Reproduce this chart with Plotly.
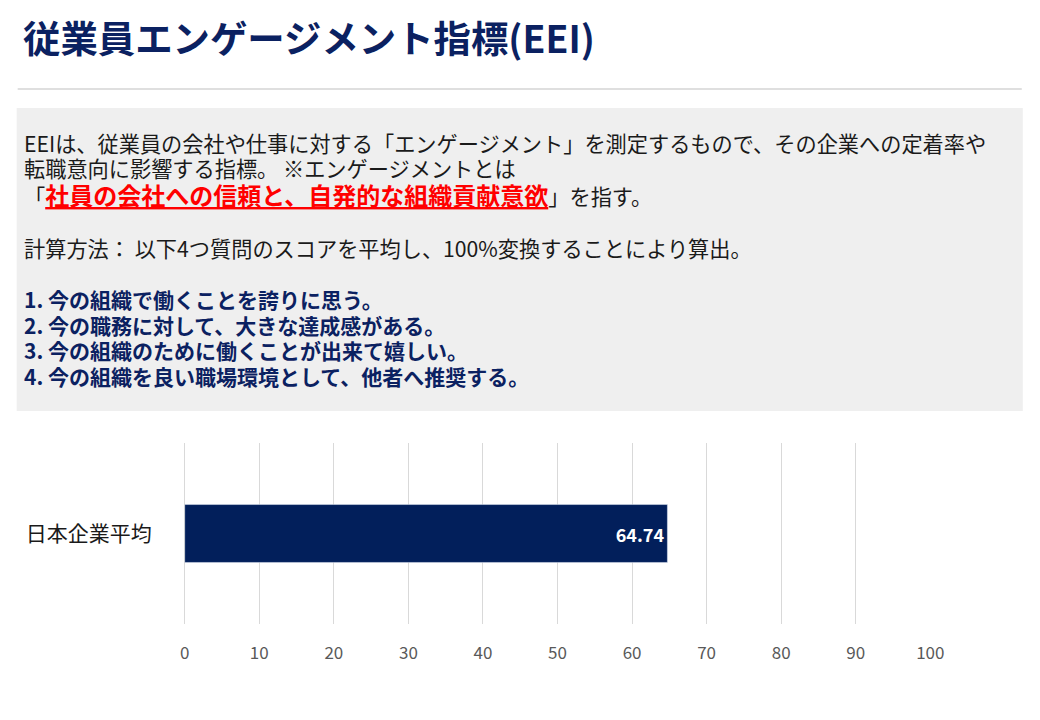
import plotly.graph_objects as go

categories = ["日本企業平均"]
values = [64.74]
x_ticks = [0, 10, 20, 30, 40, 50, 60, 70, 80, 90, 100]

title_text = "従業員エンゲージメント指標(EEI)"
desc_lines = [
    "EEIは、従業員の会社や仕事に対する「エンゲージメント」を測定するもので、その企業への定着率や",
    "転職意向に影響する指標。 ※エンゲージメントとは",
    "「<span style='color:#ff0000;font-size:24px'><b><u>社員の会社への信頼と、自発的な組織貢献意欲</u></b></span>」を指す。",
    "計算方法： 以下4つ質問のスコアを平均し、100%変換することにより算出。",
]
questions = [
    "1. 今の組織で働くことを誇りに思う。",
    "2. 今の職務に対して、大きな達成感がある。",
    "3. 今の組織のために働くことが出来て嬉しい。",
    "4. 今の組織を良い職場環境として、他者へ推奨する。",
]

W, H = 1040, 720
FONT = "Noto Sans CJK JP"
NAVY = "#0b2161"

def px(xi):
    # map a target picture x to paper x (the page is rendered slightly narrower)
    return (xi - 2.25) / 0.9875 / W

def py(pix):
    return 1 - pix / H

fig = go.Figure()
fig.add_trace(go.Bar(
    x=values, y=categories, orientation="h",
    marker=dict(color="#021f5b"),
    text=[f"{v:.2f}" for v in values],
    textposition="inside", insidetextanchor="end",
    textfont=dict(color="white", size=18, family=FONT),
    texttemplate="<b>%{text}</b>",
    hoverinfo="skip",
))

shapes = [
    dict(type="line", xref="paper", yref="paper", x0=px(15), x1=px(1025), y0=py(89), y1=py(89),
         line=dict(color="#bfbfbf", width=1)),
    dict(type="rect", xref="paper", yref="paper", x0=px(14), x1=px(1026), y0=py(411), y1=py(108),
         fillcolor="#efefef", line=dict(width=0), layer="below"),
]

annotations = [
    dict(text=f"<b>{title_text}</b>", x=16/W, y=py(37), xref="paper", yref="paper",
         xanchor="left", yanchor="middle", showarrow=False,
         font=dict(size=37.4, color=NAVY, family=FONT)),
]
desc_y = [143, 167, 195, 247]
for t, yy in zip(desc_lines, desc_y):
    annotations.append(dict(text=t, x=17/W, y=py(yy), xref="paper", yref="paper",
                            xanchor="left", yanchor="middle", showarrow=False,
                            font=dict(size=21.2, color="#1a1a1a", family=FONT)))
q_y = [299, 325, 350, 376]
for t, yy in zip(questions, q_y):
    annotations.append(dict(text=f"<b>{t}</b>", x=17/W, y=py(yy), xref="paper", yref="paper",
                            xanchor="left", yanchor="middle", showarrow=False,
                            font=dict(size=21, color=NAVY, family=FONT)))

fig.update_layout(
    width=W, height=H,
    margin=dict(l=0, r=0, t=0, b=0),
    paper_bgcolor="white", plot_bgcolor="white",
    showlegend=False,
    bargap=0.68,
    shapes=shapes,
    annotations=annotations,
    xaxis=dict(domain=[px(183), px(933)], range=[0, 100], tickvals=x_ticks,
               showgrid=True, gridcolor="#d9d9d9", gridwidth=1,
               zeroline=True, zerolinecolor="#d9d9d9", zerolinewidth=1,
               showline=False, ticks="", ticklabelstandoff=17,
               tickfont=dict(size=17, color="#595959", family=FONT), fixedrange=True),
    yaxis=dict(domain=[py(624), py(443)], showgrid=False, showline=False, ticks="",
               ticklabelstandoff=32, automargin=False,
               tickfont=dict(size=21, color="#1a1a1a", family=FONT), fixedrange=True),
)

fig.write_html("out.html")
